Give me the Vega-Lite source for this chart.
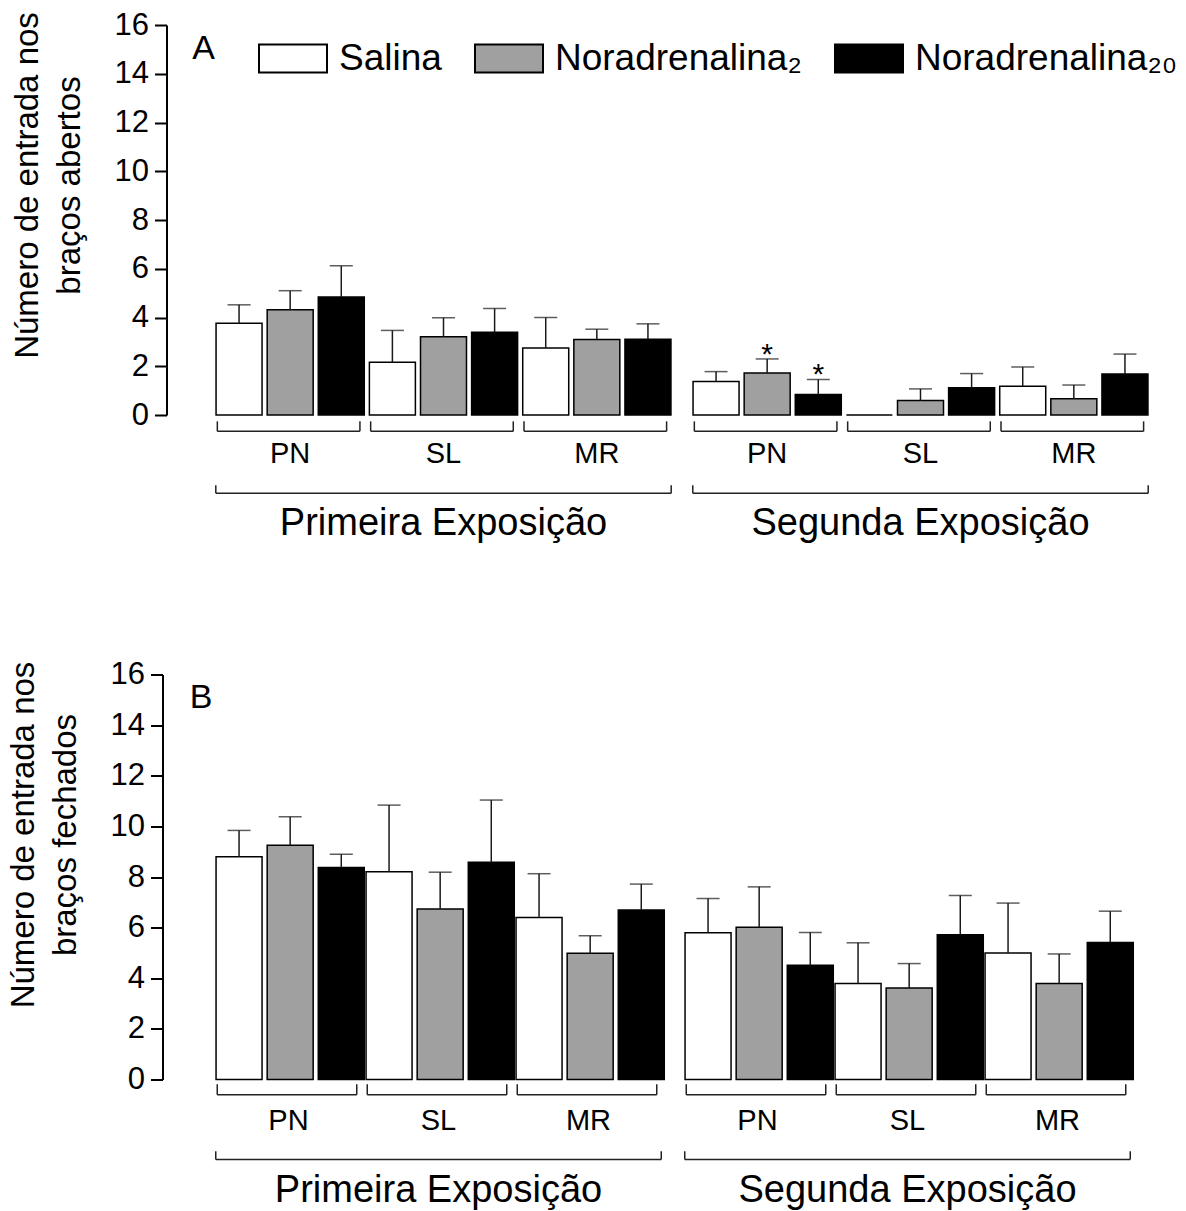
{
  "$schema": "https://vega.github.io/schema/vega-lite/v6.json",
  "padding": {"left": 6.5, "top": 9, "right": 5, "bottom": 5},
  "background": "white",
  "config": {
    "font": "Liberation Sans",
    "view": {"stroke": null},
    "axis": {
      "domainColor": "black", "domainWidth": 2, "tickColor": "black", "tickWidth": 2, "tickSize": 12,
      "labelFontSize": 31, "labelColor": "black", "labelPadding": 6,
      "titleFontSize": 33, "titleFontWeight": "normal", "titleColor": "black", "titleLineHeight": 42,
      "titlePadding": 28, "titleY": 160, "grid": false, "values": [0, 2, 4, 6, 8, 10, 12, 14, 16]
    }
  },
  "datasets": {
    "bars": [
      {"panel": "A", "exp": "Primeira Exposição", "phase": "PN", "trt": "Salina", "mean": 3.76, "upper": 4.52, "sig": ""},
      {"panel": "A", "exp": "Primeira Exposição", "phase": "PN", "trt": "Noradrenalina₂", "mean": 4.32, "upper": 5.10, "sig": ""},
      {"panel": "A", "exp": "Primeira Exposição", "phase": "PN", "trt": "Noradrenalina₂₀", "mean": 4.84, "upper": 6.12, "sig": ""},
      {"panel": "A", "exp": "Primeira Exposição", "phase": "SL", "trt": "Salina", "mean": 2.16, "upper": 3.47, "sig": ""},
      {"panel": "A", "exp": "Primeira Exposição", "phase": "SL", "trt": "Noradrenalina₂", "mean": 3.21, "upper": 3.99, "sig": ""},
      {"panel": "A", "exp": "Primeira Exposição", "phase": "SL", "trt": "Noradrenalina₂₀", "mean": 3.40, "upper": 4.37, "sig": ""},
      {"panel": "A", "exp": "Primeira Exposição", "phase": "MR", "trt": "Salina", "mean": 2.75, "upper": 4.00, "sig": ""},
      {"panel": "A", "exp": "Primeira Exposição", "phase": "MR", "trt": "Noradrenalina₂", "mean": 3.10, "upper": 3.52, "sig": ""},
      {"panel": "A", "exp": "Primeira Exposição", "phase": "MR", "trt": "Noradrenalina₂₀", "mean": 3.11, "upper": 3.74, "sig": ""},
      {"panel": "A", "exp": "Segunda Exposição", "phase": "PN", "trt": "Salina", "mean": 1.37, "upper": 1.78, "sig": ""},
      {"panel": "A", "exp": "Segunda Exposição", "phase": "PN", "trt": "Noradrenalina₂", "mean": 1.72, "upper": 2.30, "sig": "*"},
      {"panel": "A", "exp": "Segunda Exposição", "phase": "PN", "trt": "Noradrenalina₂₀", "mean": 0.84, "upper": 1.46, "sig": "*"},
      {"panel": "A", "exp": "Segunda Exposição", "phase": "SL", "trt": "Salina", "mean": 0, "upper": 0, "sig": ""},
      {"panel": "A", "exp": "Segunda Exposição", "phase": "SL", "trt": "Noradrenalina₂", "mean": 0.59, "upper": 1.07, "sig": ""},
      {"panel": "A", "exp": "Segunda Exposição", "phase": "SL", "trt": "Noradrenalina₂₀", "mean": 1.12, "upper": 1.70, "sig": ""},
      {"panel": "A", "exp": "Segunda Exposição", "phase": "MR", "trt": "Salina", "mean": 1.18, "upper": 1.97, "sig": ""},
      {"panel": "A", "exp": "Segunda Exposição", "phase": "MR", "trt": "Noradrenalina₂", "mean": 0.67, "upper": 1.23, "sig": ""},
      {"panel": "A", "exp": "Segunda Exposição", "phase": "MR", "trt": "Noradrenalina₂₀", "mean": 1.68, "upper": 2.50, "sig": ""},
      {"panel": "B", "exp": "Primeira Exposição", "phase": "PN", "trt": "Salina", "mean": 8.80, "upper": 9.84, "sig": ""},
      {"panel": "B", "exp": "Primeira Exposição", "phase": "PN", "trt": "Noradrenalina₂", "mean": 9.25, "upper": 10.38, "sig": ""},
      {"panel": "B", "exp": "Primeira Exposição", "phase": "PN", "trt": "Noradrenalina₂₀", "mean": 8.38, "upper": 8.90, "sig": ""},
      {"panel": "B", "exp": "Primeira Exposição", "phase": "SL", "trt": "Salina", "mean": 8.21, "upper": 10.84, "sig": ""},
      {"panel": "B", "exp": "Primeira Exposição", "phase": "SL", "trt": "Noradrenalina₂", "mean": 6.74, "upper": 8.19, "sig": ""},
      {"panel": "B", "exp": "Primeira Exposição", "phase": "SL", "trt": "Noradrenalina₂₀", "mean": 8.58, "upper": 11.04, "sig": ""},
      {"panel": "B", "exp": "Primeira Exposição", "phase": "MR", "trt": "Salina", "mean": 6.40, "upper": 8.13, "sig": ""},
      {"panel": "B", "exp": "Primeira Exposição", "phase": "MR", "trt": "Noradrenalina₂", "mean": 4.99, "upper": 5.68, "sig": ""},
      {"panel": "B", "exp": "Primeira Exposição", "phase": "MR", "trt": "Noradrenalina₂₀", "mean": 6.70, "upper": 7.72, "sig": ""},
      {"panel": "B", "exp": "Segunda Exposição", "phase": "PN", "trt": "Salina", "mean": 5.80, "upper": 7.15, "sig": ""},
      {"panel": "B", "exp": "Segunda Exposição", "phase": "PN", "trt": "Noradrenalina₂", "mean": 6.01, "upper": 7.61, "sig": ""},
      {"panel": "B", "exp": "Segunda Exposição", "phase": "PN", "trt": "Noradrenalina₂₀", "mean": 4.51, "upper": 5.81, "sig": ""},
      {"panel": "B", "exp": "Segunda Exposição", "phase": "SL", "trt": "Salina", "mean": 3.79, "upper": 5.40, "sig": ""},
      {"panel": "B", "exp": "Segunda Exposição", "phase": "SL", "trt": "Noradrenalina₂", "mean": 3.61, "upper": 4.58, "sig": ""},
      {"panel": "B", "exp": "Segunda Exposição", "phase": "SL", "trt": "Noradrenalina₂₀", "mean": 5.72, "upper": 7.27, "sig": ""},
      {"panel": "B", "exp": "Segunda Exposição", "phase": "MR", "trt": "Salina", "mean": 5.00, "upper": 6.97, "sig": ""},
      {"panel": "B", "exp": "Segunda Exposição", "phase": "MR", "trt": "Noradrenalina₂", "mean": 3.79, "upper": 4.96, "sig": ""},
      {"panel": "B", "exp": "Segunda Exposição", "phase": "MR", "trt": "Noradrenalina₂₀", "mean": 5.41, "upper": 6.65, "sig": ""}
    ]
  },
  "spacing": 115.5,
  "vconcat": [
    {
      "data": {"name": "bars"},
      "transform": [{"filter": "datum.panel === 'A'"}],
      "facet": {"column": {"field": "exp", "type": "nominal", "header": null}},
      "spacing": 17,
      "spec": {
        "width": 460,
        "height": 390,
        "layer": [
          {
            "mark": {"type": "bar", "stroke": "black", "strokeWidth": 1.5},
            "encoding": {
              "x": {"field": "phase", "type": "nominal", "scale": {"domain": ["PN", "SL", "MR"], "paddingInner": 0, "paddingOuter": 0}, "axis": null},
              "xOffset": {"field": "trt", "type": "nominal", "scale": {"domain": ["Salina", "Noradrenalina₂", "Noradrenalina₂₀"], "paddingInner": 0.1, "paddingOuter": 0.05}},
              "y": {"field": "mean", "type": "quantitative", "scale": {"domain": [0, 16], "nice": false}, "axis": {"title": ["Número de entrada nos", "braços abertos"], "offset": 25}},
              "fill": {"field": "trt", "type": "nominal", "scale": {"domain": ["Salina", "Noradrenalina₂", "Noradrenalina₂₀"], "range": ["#ffffff", "#a0a0a0", "#000000"]},
                "legend": {"orient": "none", "legendX": 44.5, "legendY": -1.5, "direction": "horizontal", "title": null, "symbolType": "M-1,-0.41H1V0.41H-1Z", "symbolSize": 4624, "symbolStrokeColor": "black", "symbolStrokeWidth": 2, "labelFontSize": 37, "labelOffset": 11, "columnPadding": 29, "labelLimit": 400, "labelColor": "black"}}
            }
          },
          {
            "transform": [{"filter": "datum.upper > datum.mean"}],
            "mark": {"type": "rule", "color": "#1a1a1a", "strokeWidth": 1.5},
            "encoding": {
              "x": {"field": "phase", "type": "nominal"},
              "xOffset": {"field": "trt", "type": "nominal"},
              "y": {"field": "mean", "type": "quantitative"},
              "y2": {"field": "upper"}
            }
          },
          {
            "transform": [{"filter": "datum.upper > datum.mean"}],
            "mark": {"type": "tick", "orient": "horizontal", "size": 23, "thickness": 1.5, "color": "#1a1a1a"},
            "encoding": {
              "x": {"field": "phase", "type": "nominal"},
              "xOffset": {"field": "trt", "type": "nominal"},
              "y": {"field": "upper", "type": "quantitative"}
            }
          },
          {
            "transform": [{"filter": "datum.sig !== ''"}],
            "mark": {"type": "text", "fontSize": 30, "baseline": "alphabetic", "dy": 5, "color": "black"},
            "encoding": {
              "x": {"field": "phase", "type": "nominal"},
              "xOffset": {"field": "trt", "type": "nominal"},
              "y": {"field": "upper", "type": "quantitative"},
              "text": {"field": "sig"}
            }
          },
          {
            "transform": [{"aggregate": [{"op": "count", "as": "n"}], "groupby": ["exp", "phase"]}],
            "mark": {"type": "rule", "color": "#222222", "strokeWidth": 1.5},
            "encoding": {
              "x": {"field": "phase", "type": "nominal", "bandPosition": 0.025},
              "x2": {"field": "phase", "bandPosition": 0.955},
              "y": {"datum": -0.67}
            }
          },
          {
            "transform": [{"aggregate": [{"op": "count", "as": "n"}], "groupby": ["exp", "phase"]}],
            "mark": {"type": "rule", "color": "#222222", "strokeWidth": 1.5},
            "encoding": {
              "x": {"field": "phase", "type": "nominal", "bandPosition": 0.025},
              "y": {"datum": -0.67},
              "y2": {"datum": -0.26}
            }
          },
          {
            "transform": [{"aggregate": [{"op": "count", "as": "n"}], "groupby": ["exp", "phase"]}],
            "mark": {"type": "rule", "color": "#222222", "strokeWidth": 1.5},
            "encoding": {
              "x": {"field": "phase", "type": "nominal", "bandPosition": 0.955},
              "y": {"datum": -0.67},
              "y2": {"datum": -0.26}
            }
          },
          {
            "transform": [{"aggregate": [{"op": "count", "as": "n"}], "groupby": ["exp", "phase"]}],
            "mark": {"type": "text", "fontSize": 29, "baseline": "middle", "color": "black"},
            "encoding": {
              "x": {"field": "phase", "type": "nominal"},
              "y": {"datum": -1.61},
              "text": {"field": "phase"}
            }
          },
          {
            "transform": [{"aggregate": [{"op": "count", "as": "n"}], "groupby": ["exp"]}],
            "mark": {"type": "rule", "color": "#222222", "strokeWidth": 1.5},
            "encoding": {
              "x": {"datum": "PN", "type": "nominal", "bandPosition": 0.015},
              "x2": {"datum": "MR", "bandPosition": 0.985},
              "y": {"datum": -3.21}
            }
          },
          {
            "transform": [{"aggregate": [{"op": "count", "as": "n"}], "groupby": ["exp"]}],
            "mark": {"type": "rule", "color": "#222222", "strokeWidth": 1.5},
            "encoding": {
              "x": {"datum": "PN", "type": "nominal", "bandPosition": 0.015},
              "y": {"datum": -3.21},
              "y2": {"datum": -2.88}
            }
          },
          {
            "transform": [{"aggregate": [{"op": "count", "as": "n"}], "groupby": ["exp"]}],
            "mark": {"type": "rule", "color": "#222222", "strokeWidth": 1.5},
            "encoding": {
              "x": {"datum": "MR", "type": "nominal", "bandPosition": 0.985},
              "y": {"datum": -3.21},
              "y2": {"datum": -2.88}
            }
          },
          {
            "transform": [{"aggregate": [{"op": "count", "as": "n"}], "groupby": ["exp"]}],
            "mark": {"type": "text", "fontSize": 38, "baseline": "middle", "color": "black"},
            "encoding": {
              "x": {"datum": "SL", "type": "nominal"},
              "y": {"datum": -4.46},
              "text": {"field": "exp"}
            }
          },
          {
            "transform": [{"filter": "datum.exp === 'Primeira Exposição' && datum.phase === 'PN' && datum.trt === 'Salina'"}],
            "mark": {"type": "text", "fontSize": 34, "baseline": "middle", "dx": -10, "color": "black"},
            "encoding": {
              "x": {"field": "phase", "type": "nominal", "bandPosition": 0},
              "y": {"datum": 15.0},
              "text": {"field": "panel"}
            }
          }
        ]
      }
    },
    {
      "data": {"name": "bars"},
      "transform": [{"filter": "datum.panel === 'B'"}],
      "facet": {"column": {"field": "exp", "type": "nominal", "header": null}},
      "spacing": 17,
      "spec": {
        "width": 450,
        "height": 405,
        "layer": [
          {
            "mark": {"type": "bar", "stroke": "black", "strokeWidth": 1.5},
            "encoding": {
              "x": {"field": "phase", "type": "nominal", "scale": {"domain": ["PN", "SL", "MR"], "paddingInner": 0, "paddingOuter": 0}, "axis": null},
              "xOffset": {"field": "trt", "type": "nominal", "scale": {"domain": ["Salina", "Noradrenalina₂", "Noradrenalina₂₀"], "paddingInner": 0.1, "paddingOuter": 0.05}},
              "y": {"field": "mean", "type": "quantitative", "scale": {"domain": [0, 16], "nice": false}, "axis": {"title": ["Número de entrada nos", "braços fechados"], "offset": 27}},
              "fill": {"field": "trt", "type": "nominal", "scale": {"domain": ["Salina", "Noradrenalina₂", "Noradrenalina₂₀"], "range": ["#ffffff", "#a0a0a0", "#000000"]},
                "legend": {"orient": "none", "legendX": 44.5, "legendY": -1.5, "direction": "horizontal", "title": null, "symbolType": "M-1,-0.41H1V0.41H-1Z", "symbolSize": 4624, "symbolStrokeColor": "black", "symbolStrokeWidth": 2, "labelFontSize": 37, "labelOffset": 11, "columnPadding": 29, "labelLimit": 400, "labelColor": "black"}}
            }
          },
          {
            "transform": [{"filter": "datum.upper > datum.mean"}],
            "mark": {"type": "rule", "color": "#1a1a1a", "strokeWidth": 1.5},
            "encoding": {
              "x": {"field": "phase", "type": "nominal"},
              "xOffset": {"field": "trt", "type": "nominal"},
              "y": {"field": "mean", "type": "quantitative"},
              "y2": {"field": "upper"}
            }
          },
          {
            "transform": [{"filter": "datum.upper > datum.mean"}],
            "mark": {"type": "tick", "orient": "horizontal", "size": 23, "thickness": 1.5, "color": "#1a1a1a"},
            "encoding": {
              "x": {"field": "phase", "type": "nominal"},
              "xOffset": {"field": "trt", "type": "nominal"},
              "y": {"field": "upper", "type": "quantitative"}
            }
          },
          {
            "transform": [{"aggregate": [{"op": "count", "as": "n"}], "groupby": ["exp", "phase"]}],
            "mark": {"type": "rule", "color": "#222222", "strokeWidth": 1.5},
            "encoding": {
              "x": {"field": "phase", "type": "nominal", "bandPosition": 0.025},
              "x2": {"field": "phase", "bandPosition": 0.955},
              "y": {"datum": -0.6}
            }
          },
          {
            "transform": [{"aggregate": [{"op": "count", "as": "n"}], "groupby": ["exp", "phase"]}],
            "mark": {"type": "rule", "color": "#222222", "strokeWidth": 1.5},
            "encoding": {
              "x": {"field": "phase", "type": "nominal", "bandPosition": 0.025},
              "y": {"datum": -0.6},
              "y2": {"datum": -0.19}
            }
          },
          {
            "transform": [{"aggregate": [{"op": "count", "as": "n"}], "groupby": ["exp", "phase"]}],
            "mark": {"type": "rule", "color": "#222222", "strokeWidth": 1.5},
            "encoding": {
              "x": {"field": "phase", "type": "nominal", "bandPosition": 0.955},
              "y": {"datum": -0.6},
              "y2": {"datum": -0.19}
            }
          },
          {
            "transform": [{"aggregate": [{"op": "count", "as": "n"}], "groupby": ["exp", "phase"]}],
            "mark": {"type": "text", "fontSize": 29, "baseline": "middle", "color": "black"},
            "encoding": {
              "x": {"field": "phase", "type": "nominal"},
              "y": {"datum": -1.65},
              "text": {"field": "phase"}
            }
          },
          {
            "transform": [{"aggregate": [{"op": "count", "as": "n"}], "groupby": ["exp"]}],
            "mark": {"type": "rule", "color": "#222222", "strokeWidth": 1.5},
            "encoding": {
              "x": {"datum": "PN", "type": "nominal", "bandPosition": 0.015},
              "x2": {"datum": "MR", "bandPosition": 0.985},
              "y": {"datum": -3.16}
            }
          },
          {
            "transform": [{"aggregate": [{"op": "count", "as": "n"}], "groupby": ["exp"]}],
            "mark": {"type": "rule", "color": "#222222", "strokeWidth": 1.5},
            "encoding": {
              "x": {"datum": "PN", "type": "nominal", "bandPosition": 0.015},
              "y": {"datum": -3.16},
              "y2": {"datum": -2.83}
            }
          },
          {
            "transform": [{"aggregate": [{"op": "count", "as": "n"}], "groupby": ["exp"]}],
            "mark": {"type": "rule", "color": "#222222", "strokeWidth": 1.5},
            "encoding": {
              "x": {"datum": "MR", "type": "nominal", "bandPosition": 0.985},
              "y": {"datum": -3.16},
              "y2": {"datum": -2.83}
            }
          },
          {
            "transform": [{"aggregate": [{"op": "count", "as": "n"}], "groupby": ["exp"]}],
            "mark": {"type": "text", "fontSize": 38, "baseline": "middle", "color": "black"},
            "encoding": {
              "x": {"datum": "SL", "type": "nominal"},
              "y": {"datum": -4.41},
              "text": {"field": "exp"}
            }
          },
          {
            "transform": [{"filter": "datum.exp === 'Primeira Exposição' && datum.phase === 'PN' && datum.trt === 'Salina'"}],
            "mark": {"type": "text", "fontSize": 34, "baseline": "middle", "dx": -12.5, "color": "black"},
            "encoding": {
              "x": {"field": "phase", "type": "nominal", "bandPosition": 0},
              "y": {"datum": 15.09},
              "text": {"field": "panel"}
            }
          }
        ]
      }
    }
  ]
}
